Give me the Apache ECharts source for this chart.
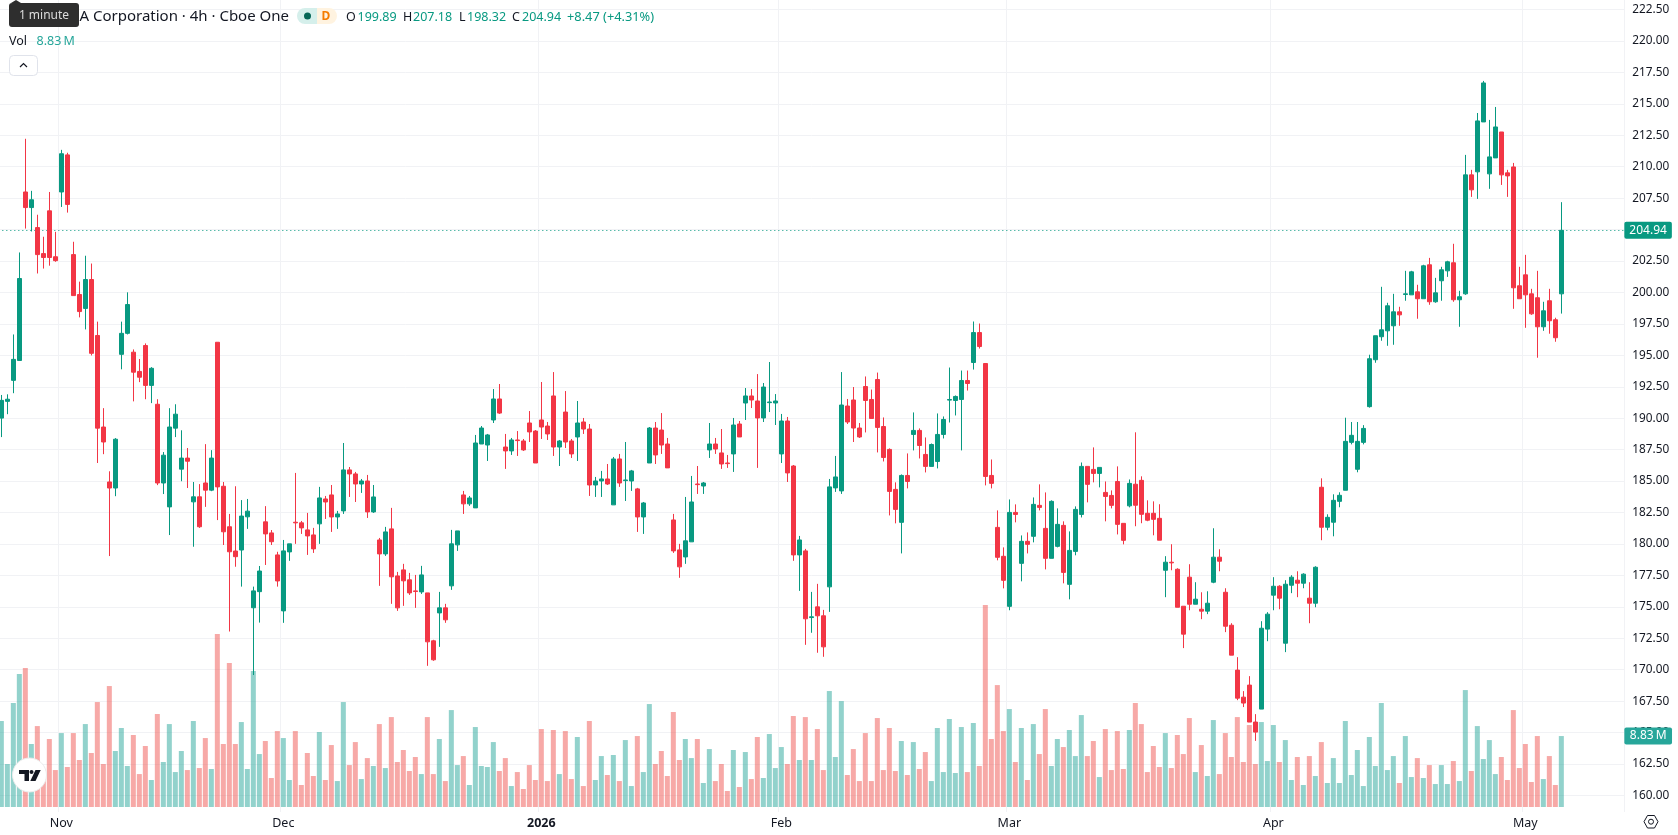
<!DOCTYPE html>
<html>
<head>
<meta charset="utf-8">
<title>NVIDIA Corporation 4h</title>
<style>
html,body{margin:0;padding:0;background:#fff;overflow:hidden}
#chart{width:1678px;height:835px}
</style>
<script src="https://cdn.jsdelivr.net/npm/echarts@6/dist/echarts.min.js"></script>
</head>
<body>
<div id="chart"></div>
<script>
// 4-hour sessions, one entry per bar
const opens = [
190.01,191.34,193.01,194.59,207.99,206.75,205.16,203.09,206.49,202.84,
207.99,210.94,203.01,199.84,198.73,201.03,196.58,189.30,184.93,184.45,
195.08,196.75,195.25,193.72,195.78,192.61,191.11,184.85,182.95,189.21,
185.95,186.83,183.35,183.75,184.85,184.28,196.04,184.59,181.37,179.44,
179.52,182.16,174.93,176.21,181.76,180.88,179.13,174.68,179.37,181.73,
181.68,181.12,180.72,181.60,183.58,183.90,182.15,182.63,185.89,185.57,
184.77,185.01,182.55,180.32,179.21,181.20,177.46,177.94,177.15,176.27,
176.19,176.11,172.30,174.52,174.92,176.67,179.93,183.90,183.19,182.87,
187.95,187.87,189.86,191.53,187.71,187.40,188.27,188.19,189.62,188.98,
189.86,189.38,191.77,187.71,190.49,188.19,188.51,189.70,189.14,184.69,
185.01,185.17,183.11,186.76,185.04,185.01,184.38,182.15,186.44,189.22,
189.06,187.95,181.91,179.53,178.97,180.17,184.77,184.61,187.48,187.95,
187.24,186.44,187.16,189.54,191.21,191.77,191.37,190.02,191.24,191.21,
187.16,189.78,186.20,179.13,179.45,174.15,175.00,174.29,176.59,184.46,
184.22,190.97,191.45,189.22,192.52,191.49,193.08,189.34,187.52,184.34,
181.72,185.45,188.71,189.03,187.12,186.17,186.56,188.71,191.44,191.41,
191.49,193.00,194.43,196.81,194.35,185.45,181.32,179.02,175.04,182.51,
178.46,180.21,180.61,183.07,181.24,178.86,179.81,181.48,176.79,179.41,
182.35,186.17,185.93,185.61,184.10,183.86,184.97,181.64,183.03,184.75,
185.06,182.44,182.44,182.04,177.91,178.55,177.99,175.05,177.36,175.21,
174.81,174.66,176.96,178.95,176.16,173.54,169.97,167.82,168.78,165.84,
166.87,173.23,175.93,176.64,172.11,176.72,177.12,176.88,175.69,175.29,
184.51,181.33,181.73,183.39,184.27,188.08,185.94,188.08,190.92,194.65,
196.48,196.95,197.35,198.46,199.84,199.81,200.05,199.50,202.20,199.26,
200.93,201.72,202.36,199.42,199.89,209.35,209.59,213.56,209.43,210.70,
212.76,209.51,209.98,200.53,201.40,199.89,199.58,197.27,199.34,197.83,
199.89];
const closes = [
191.42,191.51,194.68,201.11,206.75,207.37,203.01,202.78,202.78,202.53,
211.03,207.00,199.75,198.48,201.03,195.16,189.21,188.11,184.45,188.33,
196.75,199.04,193.66,193.26,192.61,193.97,184.85,187.06,189.30,190.32,
186.83,186.58,183.75,181.37,184.28,186.83,184.54,180.97,179.38,178.99,
182.22,182.61,176.27,177.85,180.80,180.18,177.06,179.45,180.01,181.68,
181.28,180.64,179.61,183.66,183.34,182.15,182.39,185.89,185.57,184.77,
185.01,182.55,183.74,179.21,180.96,177.39,174.92,177.07,176.11,176.22,
177.54,172.22,170.79,174.92,173.97,180.01,181.04,183.19,183.66,188.03,
189.22,188.67,191.53,190.41,187.40,188.27,188.22,187.48,188.91,186.44,
189.30,188.75,187.71,188.19,188.11,187.16,189.62,189.14,184.69,185.01,
185.17,184.77,186.76,184.85,185.09,185.81,182.15,183.26,189.22,187.08,
187.87,186.05,179.45,178.18,180.25,183.34,184.72,184.85,187.95,187.55,
186.36,186.39,189.46,188.51,191.77,191.45,190.02,192.48,191.29,191.37,
189.78,185.65,179.13,180.32,174.05,174.21,174.29,171.82,184.54,185.33,
191.05,189.70,189.22,188.51,191.41,189.98,189.27,186.88,184.18,182.75,
185.45,184.97,189.03,187.83,186.17,187.91,188.71,189.90,191.49,191.73,
193.00,192.76,196.81,195.70,185.37,184.82,178.94,177.11,182.51,182.35,
180.21,179.97,183.15,182.91,178.86,183.39,181.56,177.74,179.49,182.75,
186.17,184.74,185.61,186.09,183.78,183.07,181.56,180.29,184.82,183.08,
182.36,181.89,181.96,180.30,178.55,178.50,174.97,172.83,175.21,175.61,
174.66,175.29,178.95,178.63,173.46,171.16,167.74,167.35,165.84,165.04,
173.30,174.42,176.64,175.69,176.80,177.36,176.88,177.60,175.29,178.15,
181.33,182.12,183.47,183.87,188.16,188.64,188.16,189.19,194.73,196.56,
197.03,198.94,198.46,198.22,199.89,201.64,199.50,202.12,199.26,199.97,
201.80,202.44,199.42,199.66,209.35,208.16,213.64,216.66,210.78,213.16,
209.35,209.27,200.37,199.50,199.81,198.30,197.27,198.54,197.75,196.40,
204.94];
const highs = [
191.85,191.90,196.66,203.18,212.22,208.08,206.18,204.43,207.99,204.82,
211.34,211.11,204.03,200.86,202.92,202.30,197.68,190.80,185.78,188.42,
197.68,200.01,195.47,194.71,195.95,194.06,191.51,187.31,190.80,191.11,
189.04,187.63,184.93,184.76,187.94,187.46,196.04,184.93,182.39,184.59,
183.49,183.58,176.61,178.25,183.01,181.11,179.38,180.32,180.01,185.65,
181.83,182.47,181.28,184.54,183.82,184.69,182.63,188.03,186.12,185.73,
185.17,185.49,184.69,180.48,181.36,182.87,177.78,178.42,177.70,177.54,
178.26,176.11,172.38,176.19,175.24,181.12,181.04,184.22,183.82,188.67,
189.38,188.75,192.32,192.72,188.75,188.43,188.98,188.35,190.57,189.06,
192.88,189.70,193.67,188.27,192.16,188.35,191.37,190.02,189.54,185.33,
185.81,186.36,186.92,187.16,188.11,185.89,184.46,183.34,189.30,189.70,
190.41,188.43,182.39,180.01,183.74,185.41,186.20,184.93,189.62,188.43,
189.14,187.08,190.02,189.78,192.40,192.32,193.51,192.80,194.47,191.92,
190.34,190.10,186.28,180.64,179.61,176.19,176.83,174.76,185.17,187.00,
193.67,191.53,192.48,189.62,193.32,192.28,193.63,190.06,187.60,184.90,
185.53,187.20,190.46,189.19,188.47,187.99,190.38,190.14,194.03,191.81,
193.79,193.79,197.69,197.53,194.35,186.72,182.67,179.73,183.54,183.15,
180.68,180.92,183.70,184.74,184.10,183.47,182.83,181.80,181.00,182.99,
186.48,186.17,187.68,186.09,184.97,184.26,186.17,181.64,185.13,188.88,
185.38,183.47,183.39,183.16,179.03,179.98,178.07,175.05,178.39,176.96,
176.16,176.24,181.25,179.58,176.48,173.70,171.00,168.30,169.49,166.47,
173.86,174.58,177.36,176.72,177.12,177.52,177.83,177.67,176.96,178.23,
185.22,182.36,183.95,184.11,190.04,189.70,189.70,189.45,195.05,196.56,
200.45,199.18,199.89,198.86,201.72,201.72,200.61,202.20,202.75,201.16,
202.04,202.52,203.87,200.13,210.94,209.75,214.27,216.82,213.72,214.75,
212.76,209.75,210.30,202.04,202.99,200.29,201.72,199.26,200.29,197.99,
207.18];
const lows = [
188.50,190.32,191.99,194.59,205.08,204.85,201.51,201.90,202.13,202.44,
206.80,206.35,199.75,198.02,197.06,194.99,186.44,187.14,179.04,183.80,
193.89,196.66,191.34,192.87,191.51,191.20,184.68,183.97,180.71,188.50,
184.99,184.45,179.78,181.28,182.95,184.20,181.90,179.92,173.04,178.19,
176.61,181.20,169.58,173.75,178.33,179.92,176.61,173.73,178.66,180.01,
180.80,179.13,179.29,180.01,181.99,180.96,181.20,182.39,183.74,183.34,
184.06,182.07,182.47,176.67,179.05,175.24,174.68,175.08,175.95,174.92,
176.03,170.31,170.71,171.82,173.73,176.35,179.45,182.39,183.03,182.87,
187.95,186.60,189.62,190.34,185.97,187.08,187.00,187.40,188.11,186.44,
188.35,188.27,187.00,186.20,187.63,186.84,186.60,188.75,183.82,183.74,
183.74,184.69,183.11,184.54,183.42,184.22,180.96,180.80,186.44,186.36,
187.16,186.05,179.29,177.31,178.42,180.17,183.98,183.98,186.84,187.16,
185.97,186.05,185.73,188.51,189.86,190.81,186.05,189.70,190.49,189.46,
186.44,184.93,178.66,176.27,171.98,172.94,171.35,171.03,174.60,184.14,
183.98,189.54,188.11,188.43,188.87,189.98,187.28,186.56,182.27,181.64,
179.25,184.42,187.44,186.80,185.69,186.17,186.01,188.39,189.66,190.22,
187.44,192.20,193.87,195.54,184.66,184.42,178.70,176.47,174.73,181.72,
177.03,179.25,180.13,182.67,177.98,178.86,179.73,176.87,175.60,179.10,
182.11,183.31,184.90,184.50,181.80,182.83,180.76,179.97,182.91,181.41,
181.65,181.81,180.69,180.30,175.77,177.91,174.97,171.72,174.73,175.21,
174.02,174.42,176.88,177.83,172.99,171.16,167.58,167.03,165.84,164.34,
166.87,172.27,174.73,174.81,171.40,176.09,175.77,176.48,173.70,174.97,
180.30,181.09,180.61,182.92,184.27,187.92,185.70,187.92,190.84,194.41,
196.16,195.76,195.84,197.35,199.34,199.81,197.91,199.50,199.02,199.18,
199.34,201.24,199.26,197.27,199.81,207.60,207.44,213.56,208.24,210.70,
208.55,207.60,198.70,199.50,197.19,198.22,194.81,196.95,196.72,196.08,
198.32];
// Traded volume per bar, in millions of shares
const volumes = [
10.70,5.35,12.94,16.54,17.29,7.84,10.07,4.60,8.46,4.60,
9.20,4.98,9.20,5.85,10.32,6.72,13.06,5.35,15.05,6.97,
9.83,5.10,8.96,4.10,7.59,3.36,11.57,5.60,10.32,4.35,
6.97,4.60,10.70,4.85,8.58,4.73,21.52,7.84,17.91,7.84,
10.57,4.73,16.92,6.59,8.21,3.61,9.45,8.58,3.36,9.45,
2.74,6.72,3.86,9.33,3.36,7.71,3.23,13.06,5.22,8.08,
3.48,6.09,5.10,10.32,4.85,11.19,5.60,7.09,4.48,6.22,
4.10,11.19,4.10,8.46,3.23,12.06,5.22,6.34,2.74,9.95,
5.10,4.98,8.08,4.48,6.09,2.61,4.35,2.24,5.22,3.36,
9.70,3.23,9.58,4.10,9.45,3.48,8.71,2.61,10.70,3.36,
6.34,3.98,6.47,3.23,8.33,2.61,8.83,4.35,12.81,5.35,
6.97,3.86,11.82,5.85,8.46,6.09,8.46,2.99,7.21,3.23,
5.35,1.99,7.09,2.49,6.84,3.48,8.71,3.61,9.08,4.85,
7.46,5.35,11.32,5.85,11.19,5.85,9.70,4.60,14.43,6.22,
13.18,3.98,7.21,3.23,9.20,3.23,11.07,4.60,9.83,4.48,
8.21,3.98,8.08,4.73,6.84,3.23,9.83,4.35,10.95,4.23,
9.95,4.35,10.45,5.10,25.12,8.46,15.17,9.45,12.19,5.60,
9.83,3.36,10.32,6.59,12.19,5.10,8.46,7.46,9.58,6.34,
11.44,6.34,8.21,3.73,9.70,4.60,9.45,4.73,9.58,12.94,
10.32,4.35,7.59,4.98,9.20,4.85,8.96,6.59,11.07,4.35,
7.71,3.86,10.82,4.10,9.20,6.22,11.19,5.60,10.20,5.35,
10.57,5.72,10.20,5.60,8.33,3.36,6.22,2.74,6.34,3.86,
8.08,2.99,6.09,2.99,10.70,3.98,7.09,2.61,8.71,5.10,
12.94,4.60,6.34,2.99,8.83,3.73,6.09,3.61,5.22,2.86,
5.22,2.86,5.72,3.23,14.55,4.48,10.07,5.97,8.33,4.10,
6.22,3.36,12.06,4.85,7.84,3.11,8.83,3.48,6.34,2.74,
8.83];
// Bars on which a new month starts on the time scale
const monthBars = [10,47,90,130,168,212,254];
const monthNames = ['Nov','Dec','2026','Feb','Mar','Apr','May'];
const priceTicks = {min:160,max:222.5,step:2.5};
const lastClose = closes[closes.length-1];
const lastVolume = volumes[volumes.length-1];

const UP='#089981', DOWN='#F23645';
const VOL_UP='rgba(38,166,154,0.5)', VOL_DOWN='rgba(239,83,80,0.5)';
const FONT='"Noto Sans",sans-serif';
const GRID='#f1f2f5', TEXT='#131722';
const SLOTS=271;   // bars plus the empty run on the right
const volumeText=lastVolume.toFixed(2)+'\u2009M';

const labels=new Array(SLOTS).fill('');
monthBars.forEach((b,i)=>labels[b]=monthNames[i]);
const slotIndex=labels.map((_,i)=>String(i));
const isMonth=i=>monthBars.indexOf(i)>=0;

const candle=opens.map((o,i)=>[o,closes[i],lows[i],highs[i]]);
const volumeBars=volumes.map((v,i)=>({value:v,itemStyle:{color:closes[i]>=opens[i]?VOL_UP:VOL_DOWN}}));

const txt=(x,y,text,fill,extra)=>({type:'text',x,y,silent:true,z:20,
  style:Object.assign({text,fill,font:'12.5px '+FONT,textVerticalAlign:'middle'},extra||{})});

const chart=echarts.init(document.getElementById('chart'),null,{renderer:'canvas',width:1678,height:835});
chart.setOption({
  animation:false,
  backgroundColor:'#ffffff',
  grid:[
    {left:-1.67,width:SLOTS*6,top:9.5,height:786,containLabel:false,outerBoundsMode:'none'},
    {left:-1.67,width:SLOTS*6,top:0,height:812,containLabel:false,outerBoundsMode:'none'}
  ],
  xAxis:[
    {type:'category',gridIndex:0,data:slotIndex,show:false,boundaryGap:true},
    {type:'category',gridIndex:1,data:labels,boundaryGap:true,
     axisLine:{show:false},axisTick:{show:false},
     splitLine:{show:true,interval:(i)=>isMonth(i),lineStyle:{color:GRID,width:1}},
     axisLabel:{show:true,interval:(i)=>isMonth(i),margin:5,fontFamily:FONT,fontSize:12.5,color:TEXT,
       formatter:(v)=>v==='2026'?'{b|2026}':v,rich:{b:{fontWeight:'bold',fontFamily:FONT,fontSize:12.5,color:TEXT}}}}
  ],
  yAxis:[
    {type:'value',gridIndex:0,position:'right',min:priceTicks.min,max:priceTicks.max,interval:priceTicks.step,
     axisLine:{show:false},axisTick:{show:false},
     splitLine:{show:true,lineStyle:{color:GRID,width:1}},
     axisLabel:{show:true,inside:false,margin:8,padding:[4,0,0,0],fontFamily:FONT,fontSize:11.8,color:TEXT,
       formatter:(v)=>v.toFixed(2)}},
    {type:'value',gridIndex:1,min:-0.62,max:100.4,show:false,splitLine:{show:false}}
  ],
  series:[
    {type:'bar',name:'Vol',xAxisIndex:1,yAxisIndex:1,data:volumeBars,barWidth:5,z:2,
     silent:true,
     markLine:{silent:true,symbol:'none',animation:false,z:10,
       data:[{yAxis:lastVolume}],
       lineStyle:{color:'transparent'},
       label:{show:true,position:'end',distance:0,opacity:1,formatter:()=>volumeText,
         backgroundColor:'#26a69a',color:'#fff',fontFamily:FONT,fontSize:12,lineHeight:13,
         padding:[3,5.5,1,5.5],borderRadius:2}}},
    {type:'candlestick',name:'Price',xAxisIndex:0,yAxisIndex:0,data:candle,barWidth:4,z:5,
     silent:true,
     itemStyle:{color:UP,color0:DOWN,borderColor:UP,borderColor0:DOWN,borderWidth:1},
     markLine:{silent:true,symbol:'none',animation:false,z:1,
       data:[{yAxis:lastClose}],
       lineStyle:{color:UP,type:[1,3],width:1},
       label:{show:true,position:'end',distance:0,formatter:()=>lastClose.toFixed(2),
         backgroundColor:UP,color:'#fff',fontFamily:FONT,fontSize:12,lineHeight:13,
         padding:[3,5,1,5],borderRadius:2}}}
  ],
  graphic:[
    // Symbol line, partly under the hover hint
    txt(289,17,'NVIDIA Corporation · 4h · Cboe One',TEXT,{font:'15px '+FONT,textAlign:'right'}),
    // Market status and delay badges
    {type:'rect',silent:true,z:20,shape:{x:297,y:8,width:20,height:16,r:[8,0,0,8]},style:{fill:'#d5efeb'}},
    {type:'circle',silent:true,z:21,shape:{cx:307.5,cy:16,r:3.5},style:{fill:'#056656'}},
    {type:'rect',silent:true,z:20,shape:{x:317,y:8,width:20,height:16,r:[0,8,8,0]},style:{fill:'#fff3e0'}},
    txt(326,16.5,'D','#f57c00',{font:'bold 12px '+FONT,textAlign:'center'}),
    // OHLC read-out of the last bar
    txt(346,17,'O',TEXT),
    txt(357.5,17,opens[260].toFixed(2),UP),
    txt(403,17,'H',TEXT),
    txt(413,17,highs[260].toFixed(2),UP),
    txt(459,17,'L',TEXT),
    txt(467,17,lows[260].toFixed(2),UP),
    txt(512,17,'C',TEXT),
    txt(522,17,closes[260].toFixed(2),UP),
    txt(567,17,'+8.47 (+4.31%)',UP,{font:'12.8px '+FONT}),
    // Volume legend
    txt(9,41.5,'Vol',TEXT),
    txt(36.5,41.5,volumeText,'#26a69a'),
    // Collapse button
    {type:'rect',silent:true,z:20,shape:{x:9.5,y:55.5,width:28,height:20,r:4},style:{fill:'#fff',stroke:'#e0e3eb',lineWidth:1}},
    {type:'polyline',silent:true,z:21,shape:{points:[[20,67],[23.5,63.5],[27,67]]},style:{fill:'none',stroke:TEXT,lineWidth:1.2}},
    // Hover hint above the symbol line
    {type:'polygon',silent:true,z:30,shape:{points:[[11,3],[16,0],[21,3]]},style:{fill:'#2e2e2e'}},
    {type:'rect',silent:true,z:30,shape:{x:9,y:3,width:70,height:24,r:3},style:{fill:'#2e2e2e'}},
    {type:'text',silent:true,z:31,x:44,y:16,style:{text:'1 minute',fill:'#dcdcdc',font:'12px '+FONT,textAlign:'center',textVerticalAlign:'middle'}},
    // Brand badge
    {type:'circle',silent:true,z:20,shape:{cx:29.5,cy:775,r:17},style:{fill:'#fff',stroke:'#ececec',lineWidth:1}},
    {type:'polygon',silent:true,z:21,shape:{points:[[19,770],[29,770],[29,781],[24.5,781],[24.5,774],[19,774]]},style:{fill:'#131722'}},
    {type:'circle',silent:true,z:21,shape:{cx:31.5,cy:772,r:2},style:{fill:'#131722'}},
    {type:'polygon',silent:true,z:21,shape:{points:[[35.5,770],[40.7,770],[35.5,781],[30.3,781]]},style:{fill:'#131722'}},
    // Axis settings button
    {type:'polygon',silent:true,z:20,shape:{points:[[1644,821.7],[1647.5,815.5],[1654.5,815.5],[1658,821.7],[1654.5,828],[1647.5,828]]},style:{fill:'none',stroke:TEXT,lineWidth:1}},
    {type:'circle',silent:true,z:20,shape:{cx:1651,cy:821.7,r:2.5},style:{fill:'none',stroke:TEXT,lineWidth:1}}
  ]
});
</script>
</body>
</html>
